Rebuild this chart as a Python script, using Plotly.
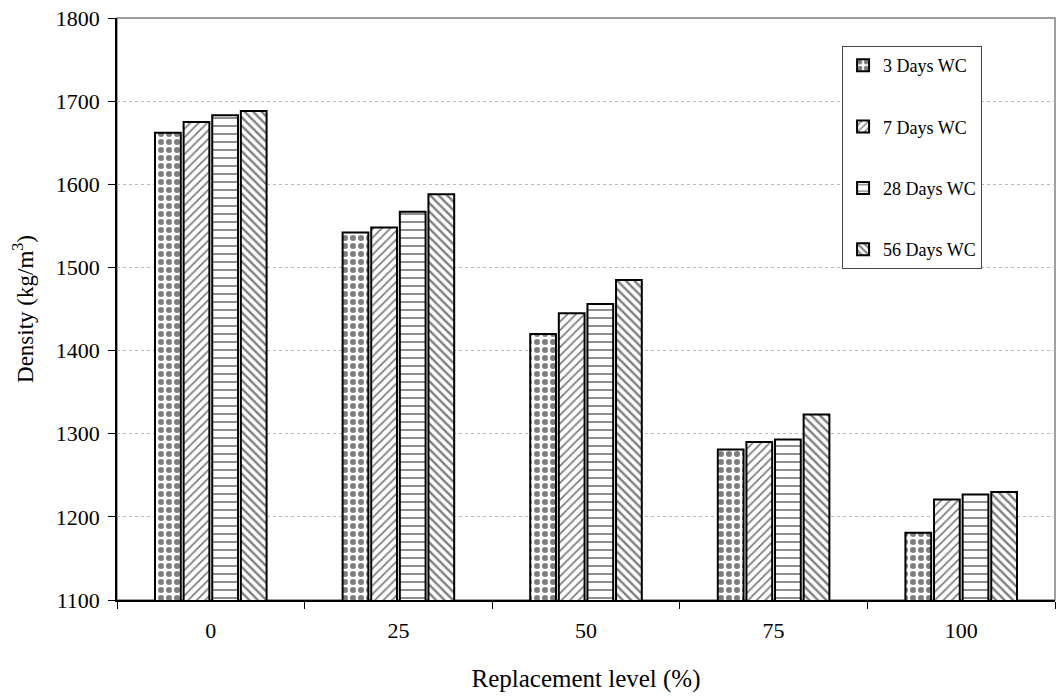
import plotly.graph_objects as go

categories = ["0", "25", "50", "75", "100"]
series_names = ["3 Days WC", "7 Days WC", "28 Days WC", "56 Days WC"]
d3 = [1662, 1542, 1420, 1281, 1181]
d7 = [1675, 1548, 1445, 1290, 1221]
d28 = [1683, 1567, 1456, 1293, 1227]
d56 = [1688, 1588, 1485, 1323, 1230]
y_ticks = [1100, 1200, 1300, 1400, 1500, 1600, 1700, 1800]

series = [d3, d7, d28, d56]
patterns = [
    dict(shape=".", fgcolor="black", bgcolor="white", size=8, solidity=0.45, fillmode="overlay"),
    dict(shape="/", fgcolor="black", bgcolor="white", size=6, solidity=0.3, fillmode="overlay"),
    dict(shape="-", fgcolor="black", bgcolor="white", size=8, solidity=0.22, fillmode="overlay"),
    dict(shape="\\", fgcolor="black", bgcolor="white", size=6, solidity=0.4, fillmode="overlay"),
]

font_family = "Liberation Serif"

fig = go.Figure()
for name, vals, pat in zip(series_names, series, patterns):
    fig.add_trace(go.Bar(
        x=categories, y=vals, name=name, legendgroup=name,
        marker=dict(color="white", line=dict(color="black", width=2), pattern=pat),
    ))

fig.update_layout(
    width=1056, height=697,
    margin=dict(l=117, r=1, t=18, b=97),
    paper_bgcolor="white", plot_bgcolor="white",
    barmode="group", bargap=0.39, bargroupgap=0.1,
    font=dict(family=font_family, size=18, color="black"),
    showlegend=True,
    legend=dict(
        x=0.773, y=0.952, xanchor="left", yanchor="top",
        bgcolor="white", bordercolor="#444", borderwidth=1,
        font=dict(family=font_family, size=18, color="black"),
        tracegroupgap=35, itemwidth=30,
    ),
    xaxis=dict(
        type="category", tickson="boundaries", ticks="outside", ticklen=7,
        tickcolor="black", showline=True, linecolor="black", linewidth=1.5,
        showgrid=False, ticklabelstandoff=10,
        title=dict(text="Replacement level (%)", standoff=27,
                   font=dict(family=font_family, size=25)),
        tickfont=dict(family=font_family, size=22),
    ),
    yaxis=dict(
        range=[1100, 1800], tickvals=y_ticks, ticks="outside", ticklen=7,
        tickcolor="black", showline=True, linecolor="black", linewidth=1.5,
        showgrid=True, gridcolor="#bbbbbb", griddash="dot", gridwidth=1,
        zeroline=False, ticklabelstandoff=4,
        title=dict(text="Density (kg/m<sup>3</sup>)", standoff=16,
                   font=dict(family=font_family, size=23)),
        tickfont=dict(family=font_family, size=22),
    ),
    shapes=[dict(type="rect", xref="paper", yref="paper", x0=0, x1=1, y0=0, y1=1,
                 line=dict(color="#808080", width=1.5), layer="below")],
)

fig.write_html("out.html")
